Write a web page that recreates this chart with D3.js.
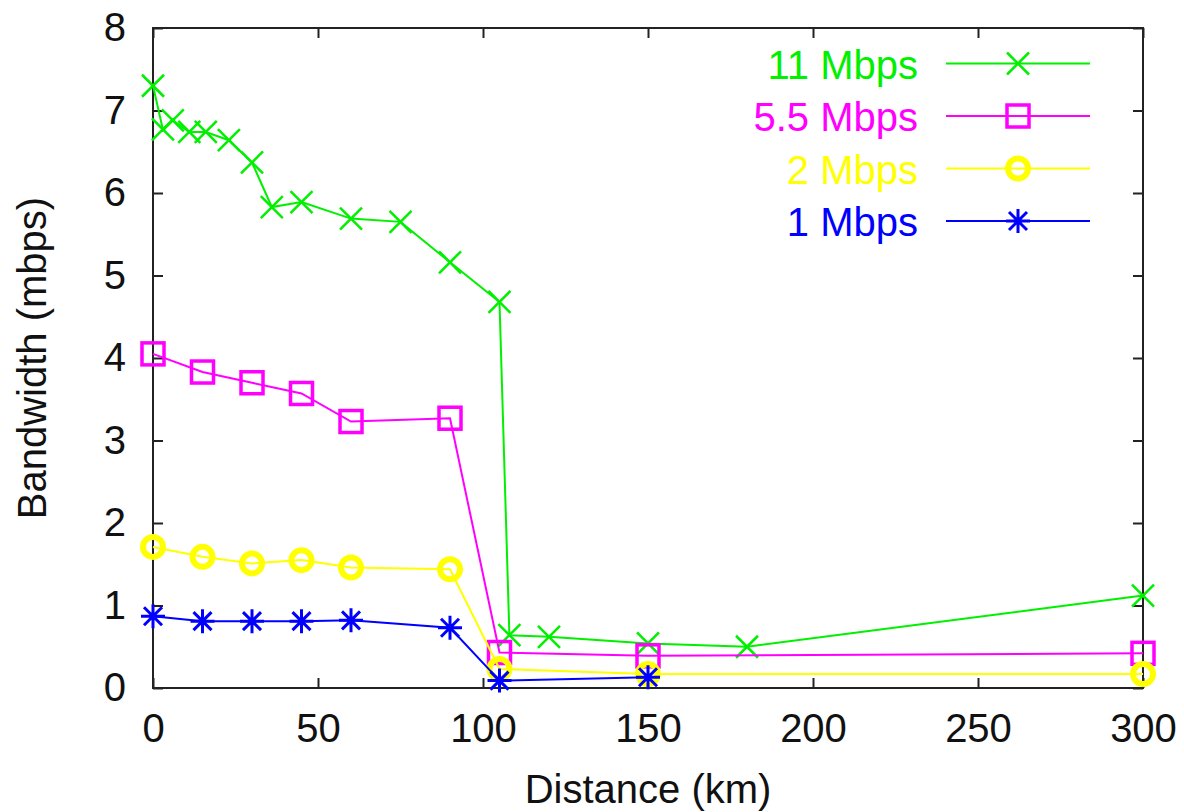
<!DOCTYPE html>
<html>
<head>
<meta charset="utf-8">
<script src="https://cdn.jsdelivr.net/npm/d3@7"></script>
<style>
  body { margin: 0; background: #fff; }
  svg { display: block; font-family: "Liberation Sans", Arial, Helvetica, sans-serif; }
  .axis text { font-size: 40px; fill: #111; }
  .axis path { display: none; }
  .axis line { stroke: #222; stroke-width: 2; }
</style>
</head>
<body>
<div class="svg-container"></div>
<script>
// series: [distance km, bandwidth mbps]
const names = ['11 Mbps', '5.5 Mbps', '2 Mbps', '1 Mbps'];
const colours = ['#00f000', '#ff00ff', '#ffff00', '#0000ff'];
const symbols = ['cross', 'square', 'circle', 'star'];

const mbps11 = [[0, 7.30], [3, 6.77], [6, 6.88], [11, 6.74], [16, 6.74], [23, 6.64], [30, 6.37],
  [36, 5.83], [45, 5.89], [60, 5.69], [75, 5.65], [90, 5.16], [105, 4.68], [108, 0.64],
  [120, 0.62], [150, 0.54], [180, 0.50], [300, 1.12]];
const mbps55 = [[0, 4.05], [15, 3.83], [30, 3.70], [45, 3.57], [60, 3.23], [90, 3.27],
  [105, 0.43], [150, 0.39], [300, 0.42]];
const mbps2 = [[0, 1.71], [15, 1.59], [30, 1.51], [45, 1.55], [60, 1.46], [90, 1.44],
  [105, 0.23], [150, 0.17], [300, 0.17]];
const mbps1 = [[0, 0.87], [15, 0.81], [30, 0.81], [45, 0.81], [60, 0.82], [90, 0.73],
  [105, 0.09], [150, 0.13]];

const xTicks = [0, 50, 100, 150, 200, 250, 300];
const yTicks = [0, 1, 2, 3, 4, 5, 6, 7, 8];

function renderChart() {

  // set up required dimensions
  const width = 1184;
  const height = 812;
  const margin = { top: 28, right: 41, bottom: 124, left: 153 };

  const series = [mbps11, mbps55, mbps2, mbps1].map((values, i) => ({
    name: names[i],
    colour: colours[i],
    symbol: symbols[i],
    values: values
  }));

  const svg = d3.select('.svg-container')
    .append('svg')
    .attr('width', width)
    .attr('height', height);

  const x = d3.scaleLinear()
    .domain([0, 300])
    .range([margin.left, width - margin.right]);

  const y = d3.scaleLinear()
    .domain([0, 8])
    .range([height - margin.bottom, margin.top]);

  // axes with inward ticks on all four sides
  svg.append('g')
    .attr('class', 'axis')
    .attr('transform', `translate(0,${y(0)})`)
    .call(d3.axisBottom(x).tickValues(xTicks).tickSizeInner(-10).tickSizeOuter(0).tickPadding(26));

  svg.append('g')
    .attr('class', 'axis')
    .attr('transform', `translate(0,${y(8)})`)
    .call(d3.axisTop(x).tickValues(xTicks).tickSizeInner(-10).tickSizeOuter(0).tickFormat(''));

  svg.append('g')
    .attr('class', 'axis')
    .attr('transform', `translate(${x(0)},0)`)
    .call(d3.axisLeft(y).tickValues(yTicks).tickSizeInner(-10).tickSizeOuter(0).tickPadding(27));

  svg.append('g')
    .attr('class', 'axis')
    .attr('transform', `translate(${x(300)},0)`)
    .call(d3.axisRight(y).tickValues(yTicks).tickSizeInner(-10).tickSizeOuter(0).tickFormat(''));

  // plot border
  svg.append('rect')
    .attr('x', x(0))
    .attr('y', y(8))
    .attr('width', x(300) - x(0))
    .attr('height', y(0) - y(8))
    .attr('fill', 'none')
    .attr('stroke', '#222')
    .attr('stroke-width', 2);

  // axis titles
  svg.append('text')
    .attr('x', (x(0) + x(300)) / 2)
    .attr('y', 803)
    .attr('text-anchor', 'middle')
    .style('font-size', '40px')
    .style('fill', '#111')
    .text('Distance (km)');

  svg.append('text')
    .attr('transform', `translate(46,${(y(0) + y(8)) / 2}) rotate(-90)`)
    .attr('text-anchor', 'middle')
    .style('font-size', '40px')
    .style('fill', '#111')
    .text('Bandwidth (mbps)');

  // marker drawing for each point style
  function drawMarker(g, symbol, colour) {
    if (symbol === 'cross') {
      g.append('path')
        .attr('d', 'M-11,-11L11,11M-11,11L11,-11')
        .attr('stroke', colour).attr('stroke-width', 2.5).attr('fill', 'none');
    } else if (symbol === 'square') {
      g.append('rect')
        .attr('x', -11).attr('y', -11).attr('width', 22).attr('height', 22)
        .attr('stroke', colour).attr('stroke-width', 3.5).attr('fill', 'none');
    } else if (symbol === 'circle') {
      g.append('circle')
        .attr('r', 10)
        .attr('stroke', colour).attr('stroke-width', 6).attr('fill', 'none');
    } else {
      g.append('path')
        .attr('d', 'M-12,0L12,0M0,-12L0,12M-9,-9L9,9M-9,9L9,-9')
        .attr('stroke', colour).attr('stroke-width', 3).attr('fill', 'none');
    }
  }

  const line = d3.line()
    .x(d => x(d[0]))
    .y(d => y(d[1]));

  const seriesGroup = svg.selectAll('.series')
    .data(series)
    .enter()
    .append('g')
    .attr('class', 'series');

  seriesGroup.append('path')
    .attr('d', d => line(d.values))
    .attr('fill', 'none')
    .attr('stroke', d => d.colour)
    .attr('stroke-width', 2);

  seriesGroup.each(function(s) {
    d3.select(this).selectAll('.marker')
      .data(s.values)
      .enter()
      .append('g')
      .attr('class', 'marker')
      .attr('transform', d => `translate(${x(d[0])},${y(d[1])})`)
      .each(function() { drawMarker(d3.select(this), s.symbol, s.colour); });
  });

  // legend, top right inside the frame
  const legend = svg.selectAll('.legend')
    .data(series)
    .enter()
    .append('g')
    .attr('class', 'legend')
    .attr('transform', (d, i) => `translate(0,${63.5 + i * 52.5})`);

  legend.append('text')
    .attr('x', 918)
    .attr('y', 15)
    .attr('text-anchor', 'end')
    .style('font-size', '40px')
    .style('fill', d => d.colour)
    .text(d => d.name);

  legend.append('line')
    .attr('x1', 946)
    .attr('x2', 1090)
    .attr('stroke', d => d.colour)
    .attr('stroke-width', 2);

  legend.append('g')
    .attr('transform', 'translate(1018,0)')
    .each(function(d) { drawMarker(d3.select(this), d.symbol, d.colour); });
}

renderChart();
</script>
</body>
</html>
